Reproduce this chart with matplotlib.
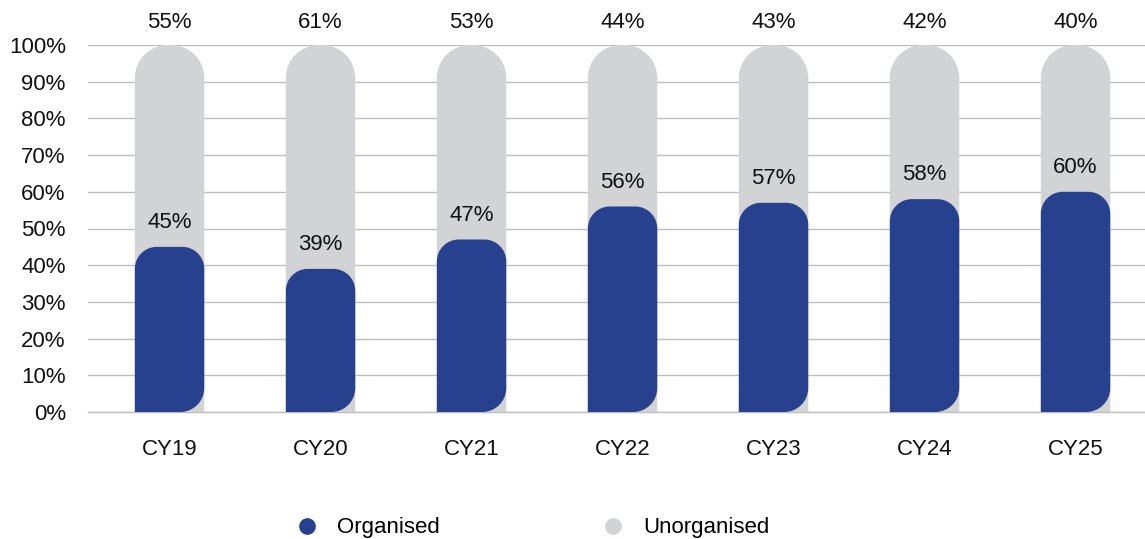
import numpy as np
import matplotlib.pyplot as plt
from matplotlib.path import Path
from matplotlib.patches import PathPatch
from matplotlib.lines import Line2D

plt.rcParams['font.family'] = ['Liberation Sans', 'DejaVu Sans']

years = ['CY19', 'CY20', 'CY21', 'CY22', 'CY23', 'CY24', 'CY25']
organised = [45, 39, 47, 56, 57, 58, 60]
unorganised = [55, 61, 53, 44, 43, 42, 40]

blue = '#27418F'
grey = '#D1D3D4'
fs = 16

W, H = 1145, 539
fig = plt.figure(figsize=(W / 100, H / 100), dpi=100)
ax = fig.add_axes([88 / W, 1 - 412 / H, 1 - 88 / W, (412 - 45) / H])
ax.set_xlim(-0.54, 6.46)
ax.set_ylim(0, 100)

# pixels per data unit, used to get round corners in screen space
px_x = (W - 88) / 7.0
px_y = (412 - 45) / 100.0
K = 0.5523


def rounded_bar(x0, x1, y0, y1, r_tl, r_tr, r_br, r_bl, color):
    def rx(r):
        return r / px_x

    def ry(r):
        return r / px_y

    verts = [(x0, y0 + ry(r_bl))]
    codes = [Path.MOVETO]

    def corner(p_from, p_ctrl, p_to, r):
        if r == 0:
            verts.append(p_ctrl)
            codes.append(Path.LINETO)
            return
        verts.append(p_from)
        codes.append(Path.LINETO)
        c1 = (p_from[0] + K * (p_ctrl[0] - p_from[0]), p_from[1] + K * (p_ctrl[1] - p_from[1]))
        c2 = (p_to[0] + K * (p_ctrl[0] - p_to[0]), p_to[1] + K * (p_ctrl[1] - p_to[1]))
        verts.extend([c1, c2, p_to])
        codes.extend([Path.CURVE4] * 3)

    corner((x0, y1 - ry(r_tl)), (x0, y1), (x0 + rx(r_tl), y1), r_tl)
    corner((x1 - rx(r_tr), y1), (x1, y1), (x1, y1 - ry(r_tr)), r_tr)
    corner((x1, y0 + ry(r_br)), (x1, y0), (x1 - rx(r_br), y0), r_br)
    corner((x0 + rx(r_bl), y0), (x0, y0), (x0, y0 + ry(r_bl)), r_bl)
    verts.append((x0, y0 + ry(r_bl)))
    codes.append(Path.CLOSEPOLY)
    ax.add_patch(PathPatch(Path(verts, codes), facecolor=color, edgecolor='none', zorder=3))


bw = 0.46
x = np.arange(len(years))
for i in range(len(years)):
    total = organised[i] + unorganised[i]
    rounded_bar(x[i] - bw / 2, x[i] + bw / 2, 0, total, 33, 33, 0, 0, grey)
    rounded_bar(x[i] - bw / 2, x[i] + bw / 2, 0, organised[i], 22, 22, 24, 0, blue)
    ax.annotate(f'{unorganised[i]}%', (x[i], total), xytext=(0, 16), textcoords='offset points',
                ha='center', va='center', fontsize=fs, color='#111111')
    ax.annotate(f'{organised[i]}%', (x[i], organised[i]), xytext=(0, 17.5), textcoords='offset points',
                ha='center', va='center', fontsize=fs, color='#111111')

ax.set_yticks(np.arange(0, 101, 10))
ax.set_yticklabels([f'{v}%' for v in range(0, 101, 10)], fontsize=fs)
ax.set_xticks(x)
ax.set_xticklabels(years, fontsize=fs)
ax.tick_params(axis='both', length=0, colors='#111111')
ax.tick_params(axis='y', pad=16)
ax.tick_params(axis='x', pad=19.5)
ax.yaxis.grid(True, color='#BDBDBD', linewidth=1)
ax.axhline(0, color='#BDBDBD', linewidth=1, clip_on=False, zorder=0)
ax.set_axisbelow(True)
for s in ax.spines.values():
    s.set_visible(False)

handles = [Line2D([], [], marker='o', linestyle='none', markersize=11, color=blue),
           Line2D([], [], marker='o', linestyle='none', markersize=11, color=grey)]
fig.legend(handles, ['Organised', 'Unorganised'], loc='center', bbox_to_anchor=(533 / W, 1 - 528 / H),
           ncol=2, frameon=False, fontsize=fs, columnspacing=7.3, handlelength=1.0,
           handletextpad=0.86)

fig.savefig('out.png', dpi=100)
